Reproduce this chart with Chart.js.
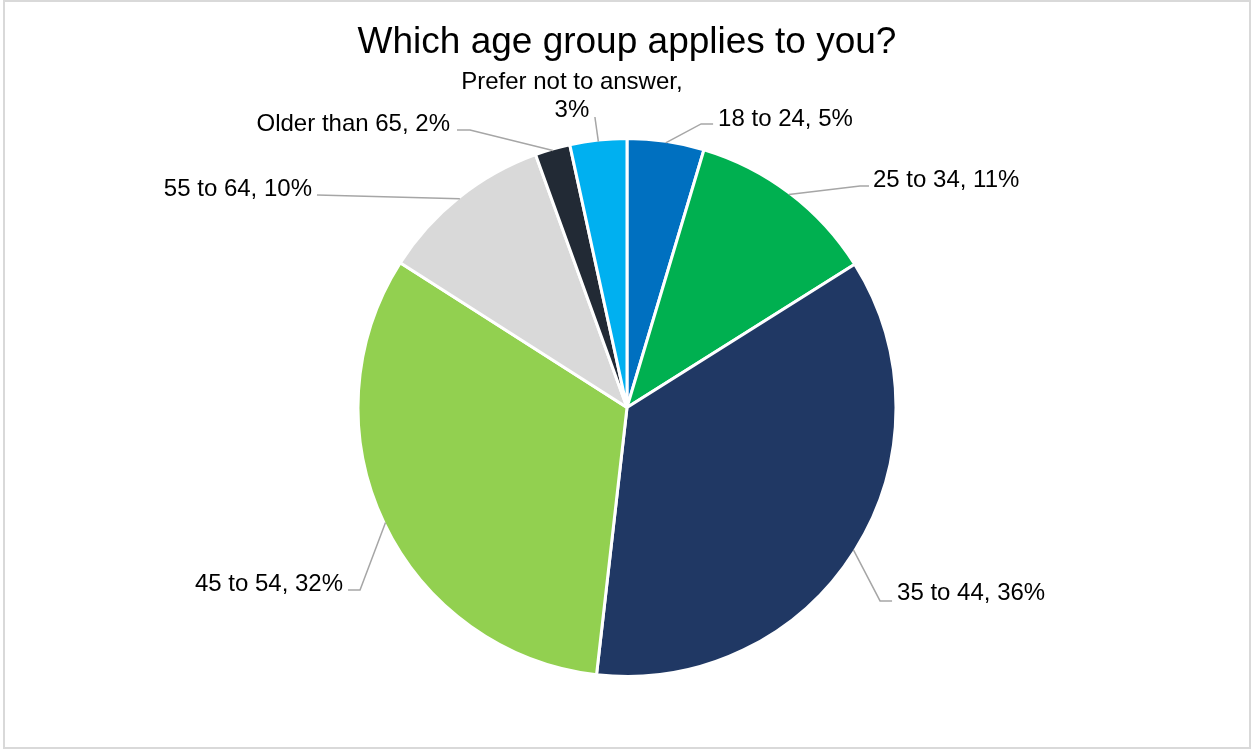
<!DOCTYPE html>
<html>
<head>
<meta charset="utf-8">
<script src="https://cdn.jsdelivr.net/npm/chart.js@4/dist/chart.umd.min.js"></script>
<style>
  html, body { margin: 0; padding: 0; background: #ffffff; }
  #wrap { width: 1252px; height: 751px; position: relative; }
</style>
</head>
<body>
<div id="wrap"><canvas id="c" width="1252" height="751"></canvas></div>
<script>
// ---- data ----
const chartTitle = 'Which age group applies to you?';
const categories = ['18 to 24', '25 to 34', '35 to 44', '45 to 54', '55 to 64', 'Older than 65', 'Prefer not to answer'];
const shares = [4.6, 11.4, 35.6, 32.1, 10.4, 2.1, 3.4];
const sliceColors = ['#0070C0', '#00B050', '#203864', '#92D050', '#D9D9D9', '#222A35', '#00B0F0'];

// ---- label layout (relative to pie centre, in radius units) ----
const labelLayout = [
  { ex: 0.277, ey: -1.060, len: 12, side: 1, gap: 5, dy: -7 },
  { ex: 0.871, ey: -0.828, len: 9, side: 1, gap: 4, dy: -8 },
  { ex: 0.946, ey: 0.723, len: 12, side: 1, gap: 5, dy: -9 },
  { ex: -0.998, ey: 0.682, len: 12, side: -1, gap: 5, dy: -8 },
  { ex: -1.159, ey: -0.794, len: 0, side: -1, gap: 5, dy: -8 },
  { ex: -0.587, ey: -1.037, len: 13, side: -1, gap: 7, dy: -8 },
  { ex: -0.120, ey: -1.086, len: 0, side: 0, dx: -23, dy: -9, wrap: true }
];

const FONT = "'Liberation Sans', Arial, sans-serif";
const LABEL_SIZE = 24;

const framePlugin = {
  id: 'frame',
  beforeDraw(chart) {
    const ctx = chart.ctx;
    ctx.save();
    ctx.fillStyle = '#ffffff';
    ctx.fillRect(0, 0, chart.width, chart.height);
    ctx.strokeStyle = '#D9D9D9';
    ctx.lineWidth = 2;
    ctx.strokeRect(4, 1, 1246, 747);
    ctx.restore();
  }
};

const labelPlugin = {
  id: 'leaderLabels',
  afterDatasetsDraw(chart) {
    const ctx = chart.ctx;
    const meta = chart.getDatasetMeta(0);
    const values = chart.data.datasets[0].data;
    const total = values.reduce((a, b) => a + b, 0);
    ctx.save();
    meta.data.forEach((arc, i) => {
      const p = arc.getProps(['x', 'y', 'startAngle', 'endAngle', 'outerRadius'], true);
      const R = p.outerRadius - 1.5;
      const mid = (p.startAngle + p.endAngle) / 2;
      const ax = p.x + Math.cos(mid) * R;
      const ay = p.y + Math.sin(mid) * R;
      const L = labelLayout[i];
      const exx = p.x + L.ex * R;
      const eyy = p.y + L.ey * R;
      const endX = exx + L.side * L.len;
      ctx.strokeStyle = '#A6A6A6';
      ctx.lineWidth = 1.5;
      ctx.beginPath();
      ctx.moveTo(ax, ay);
      ctx.lineTo(exx, eyy);
      if (L.len) ctx.lineTo(endX, eyy);
      ctx.stroke();

      const pct = Math.round(values[i] / total * 100) + '%';
      ctx.fillStyle = '#000000';
      ctx.font = LABEL_SIZE + 'px ' + FONT;
      ctx.textBaseline = 'alphabetic';
      const capShift = 0.358 * LABEL_SIZE;
      if (L.wrap) {
        ctx.textAlign = 'center';
        const cx = exx + L.dx;
        const lastY = eyy + L.dy + capShift;
        ctx.fillText(categories[i] + ',', cx, lastY - 28);
        ctx.fillText(pct, cx, lastY);
      } else {
        const text = categories[i] + ', ' + pct;
        ctx.textAlign = L.side > 0 ? 'left' : 'right';
        ctx.fillText(text, endX + L.side * L.gap, eyy + L.dy + capShift);
      }
    });
    ctx.restore();
  }
};

new Chart(document.getElementById('c'), {
  type: 'pie',
  data: {
    labels: categories,
    datasets: [{
      data: shares,
      backgroundColor: sliceColors,
      borderColor: '#ffffff',
      borderWidth: 3
    }]
  },
  options: {
    responsive: false,
    animation: false,
    events: [],
    radius: 269,
    layout: { padding: { top: 0, bottom: 66, left: 2, right: 0 } },
    plugins: {
      legend: { display: false },
      tooltip: { enabled: false },
      title: {
        display: true,
        text: chartTitle,
        color: '#000000',
        font: { family: FONT, size: 37, weight: 'normal', lineHeight: 1.2 },
        padding: { top: 21, bottom: 64.6 }
      }
    }
  },
  plugins: [framePlugin, labelPlugin]
});
</script>
</body>
</html>
